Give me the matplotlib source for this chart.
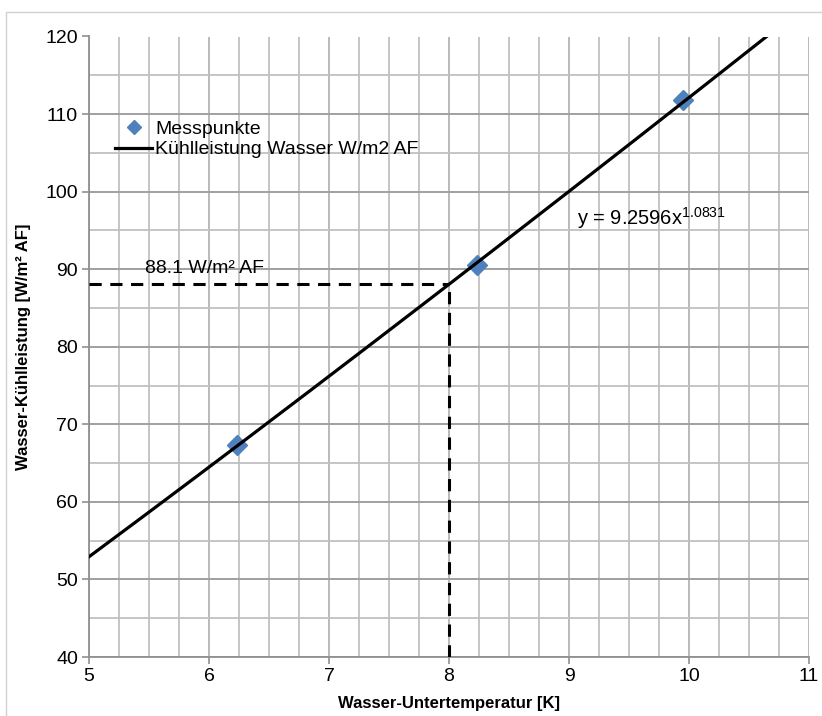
import numpy as np
import matplotlib
matplotlib.use("Agg")
import matplotlib.pyplot as plt
from matplotlib.patches import Rectangle
from matplotlib.ticker import MultipleLocator

# Data
mess_x = [6.23, 8.23, 9.95]
mess_y = [67.3, 90.5, 111.8]
fit_a = 9.2596
fit_b = 1.0831
ref_x = 8.0
ref_y = 88.1
x_ticks = [5, 6, 7, 8, 9, 10, 11]
y_ticks = [40, 50, 60, 70, 80, 90, 100, 110, 120]

plt.rcParams['font.family'] = ['Liberation Sans', 'DejaVu Sans']

fig = plt.figure(figsize=(8.22, 7.16), dpi=100)
fig.patches.append(Rectangle((6/822, -0.1), 1.2, (716-12)/716 + 0.1,
                             transform=fig.transFigure, fill=False,
                             edgecolor='#d0d0d0', linewidth=1.0))
ax = fig.add_axes([89/822, 1-657/716, 720/822, (657-36.5)/716])

ax.set_xlim(5, 11)
ax.set_ylim(40, 120)
ax.set_xticks(x_ticks)
ax.set_yticks(y_ticks)
ax.xaxis.set_minor_locator(MultipleLocator(0.25))
ax.yaxis.set_minor_locator(MultipleLocator(5))
ax.grid(which='minor', axis='both', color='#c0c0c0', linewidth=1.3)
ax.grid(which='major', axis='x', color='#b4b4b4', linewidth=1.3)
ax.grid(which='major', axis='y', color='#a0a0a0', linewidth=1.4)
ax.set_axisbelow(True)
for s in ['top', 'right']:
    ax.spines[s].set_visible(False)
for s in ['left', 'bottom']:
    ax.spines[s].set_color('#909090')
    ax.spines[s].set_linewidth(1.3)
ax.tick_params(which='major', direction='out', length=5, width=1.2,
               color='#909090', labelsize=14, pad=3)
ax.tick_params(which='minor', length=0)

xs = np.linspace(5, 11, 400)
ax.plot(xs, fit_a * xs ** fit_b, color='black', linewidth=2.3,
        label='Kühlleistung Wasser W/m2 AF', zorder=4, clip_on=True)
ax.plot(mess_x, mess_y, linestyle='none', marker='D', markersize=10,
        color='#4f81bd', label='Messpunkte', zorder=3)

ax.plot([5, ref_x], [ref_y, ref_y], color='black', linewidth=2.2,
        dashes=(4, 2.8), zorder=3)
ax.plot([ref_x, ref_x], [40, ref_y], color='black', linewidth=2.2,
        dashes=(4, 2.8), zorder=3)

ax.text(5.47, 89.0, '88.1 W/m² AF', fontsize=14, ha='left', va='bottom')
ax.text(9.07, 96.6, r'y = 9.2596x$^{\mathregular{1.0831}}$', fontsize=14.5,
        ha='left', va='center')

handles, labels = ax.get_legend_handles_labels()
leg = ax.legend(handles[::-1], labels[::-1], loc='upper left',
                bbox_to_anchor=(0.026, 0.878), frameon=False, fontsize=14,
                handlelength=1.9, handletextpad=0.15, labelspacing=0.16,
                borderaxespad=0, markerscale=0.75)

lab_font = ['Liberation Sans Narrow', 'Liberation Sans', 'DejaVu Sans']
ax.set_xlabel('Wasser-Untertemperatur [K]', fontsize=12, fontweight='bold',
              family=lab_font, labelpad=8)
ax.set_ylabel('Wasser-Kühlleistung [W/m² AF]', fontsize=12, fontweight='bold',
              family=lab_font, labelpad=10)

fig.savefig('out.png', dpi=100)
